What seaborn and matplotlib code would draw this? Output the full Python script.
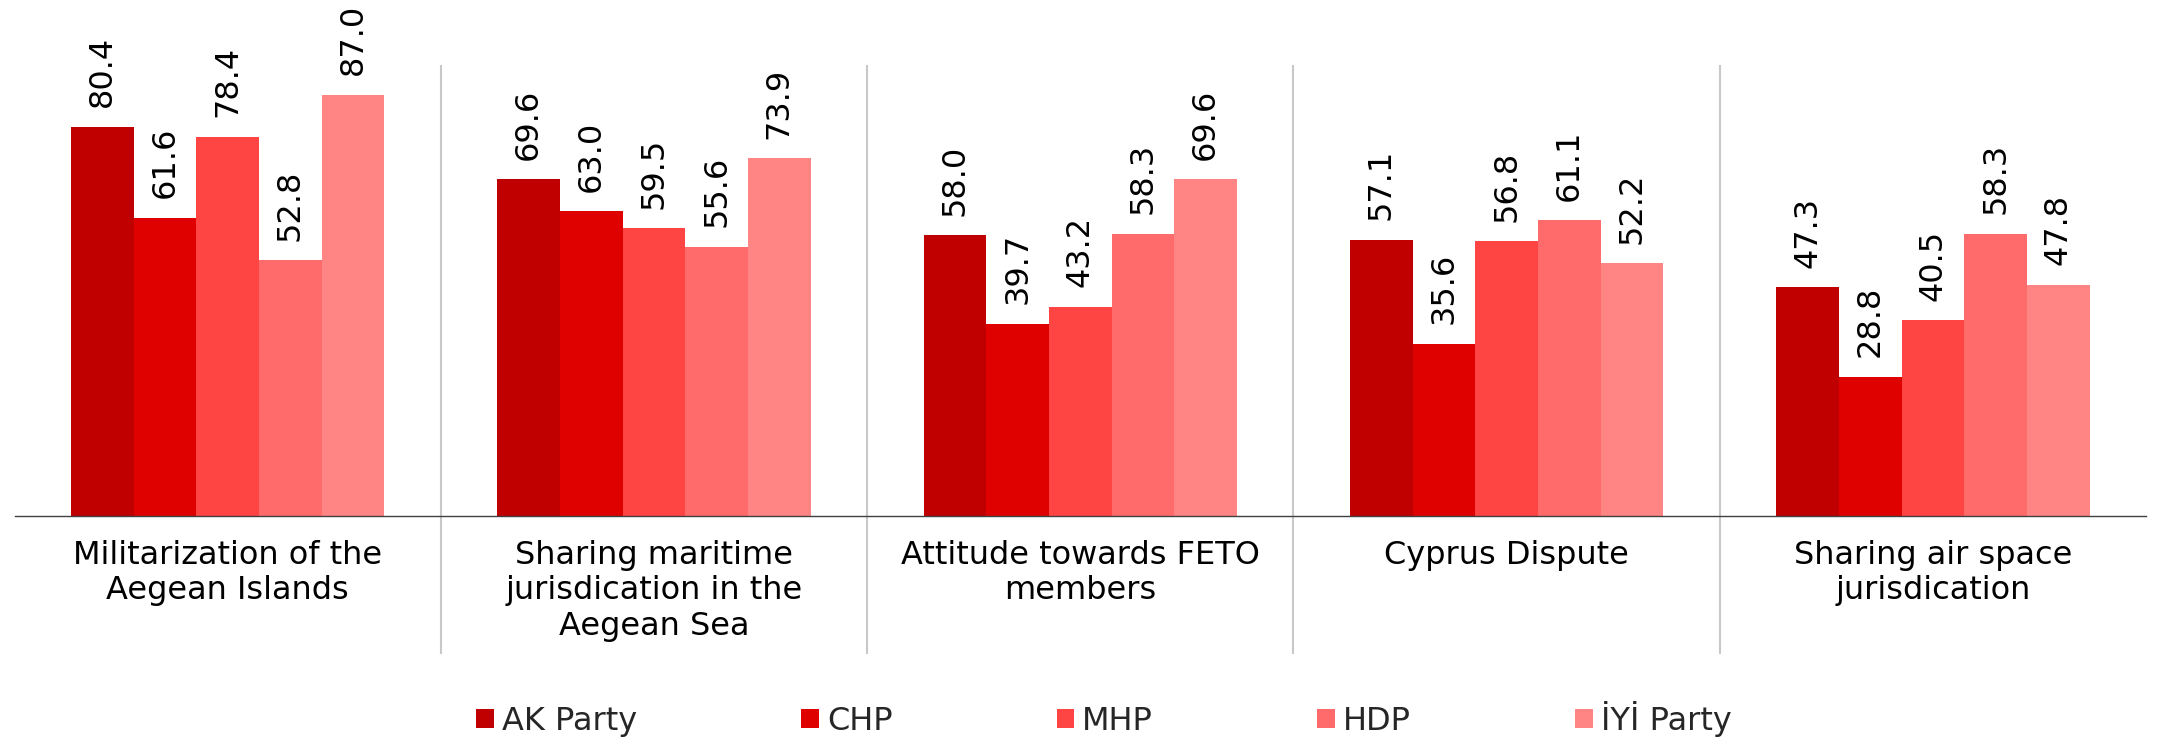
import matplotlib
matplotlib.use("Agg")
import matplotlib.pyplot as plt
import seaborn as sns
import pandas as pd

issues = [
    "Militarization of the\nAegean Islands",
    "Sharing maritime\njurisdication in the\nAegean Sea",
    "Attitude towards FETO\nmembers",
    "Cyprus Dispute",
    "Sharing air space\njurisdication",
]
parties = ["AK Party", "CHP", "MHP", "HDP", "İYİ Party"]
ak_party = [80.4, 69.6, 58.0, 57.1, 47.3]
chp = [61.6, 63.0, 39.7, 35.6, 28.8]
mhp = [78.4, 59.5, 43.2, 56.8, 40.5]
hdp = [52.8, 55.6, 58.3, 61.1, 58.3]
iyi_party = [87.0, 73.9, 69.6, 52.2, 47.8]
colors = ["#C00000", "#DF0000", "#FF4444", "#FF6A6A", "#FF8585"]

series = [ak_party, chp, mhp, hdp, iyi_party]
rows = []
for p, vals in zip(parties, series):
    for iss, v in zip(issues, vals):
        rows.append({"issue": iss, "party": p, "value": v})
df = pd.DataFrame(rows)

sns.set_style("white")
plt.rcParams["font.family"] = ["DejaVu Sans"]
FS = 23

W, H = 2159, 739
fig = plt.figure(figsize=(W / 100, H / 100), dpi=100)
ax_left, ax_right = 14.5 / W, 2146 / W
ax_bottom = (H - 516) / H
ax_height = 484 / H
ax = fig.add_axes([ax_left, ax_bottom, ax_right - ax_left, ax_height])

sns.barplot(data=df, x="issue", y="value", hue="party", order=issues,
            hue_order=parties, palette=colors, width=0.735, saturation=1,
            linewidth=0, ax=ax)

for c in ax.containers:
    ax.bar_label(c, fmt="%.1f", rotation=90, padding=14, fontsize=FS, color="black")

ax.set_xlim(-0.5, len(issues) - 0.5)
ax.set_ylim(0, 100)
ax.set_xlabel("")
ax.set_ylabel("")
ax.set_yticks([])
for s in ["top", "right", "left"]:
    ax.spines[s].set_visible(False)
ax.spines["bottom"].set_color("#404040")
ax.spines["bottom"].set_linewidth(1.0)

# category labels on major ticks (no tick marks), boundary ticks as minor
ax.set_xticks(range(len(issues)))
ax.set_xticklabels(issues, fontsize=FS, color="black")
ax.tick_params(axis="x", which="major", length=0, pad=17)
ax.set_xticks([i - 0.5 for i in range(len(issues) + 1)], minor=True)
ax.tick_params(axis="x", which="minor", length=7.5, width=1.0, color="#404040",
               direction="out")

# light gray separators between categories
ax.vlines([i + 0.5 for i in range(len(issues) - 1)], -28.5, 93.2,
          colors="#C8C8C8", linewidth=1.5, clip_on=False, zorder=0)

handles, labels = ax.get_legend_handles_labels()
if ax.get_legend() is not None:
    ax.get_legend().remove()
fig.legend(handles, labels, loc="center", bbox_to_anchor=(1104 / W, 1 - 719 / H),
           ncol=5, frameon=False, fontsize=FS, handlelength=0.55,
           handleheight=0.55, handletextpad=0.25, columnspacing=5.14,
           borderpad=0, borderaxespad=0)

fig.savefig("out.png", dpi=100)
